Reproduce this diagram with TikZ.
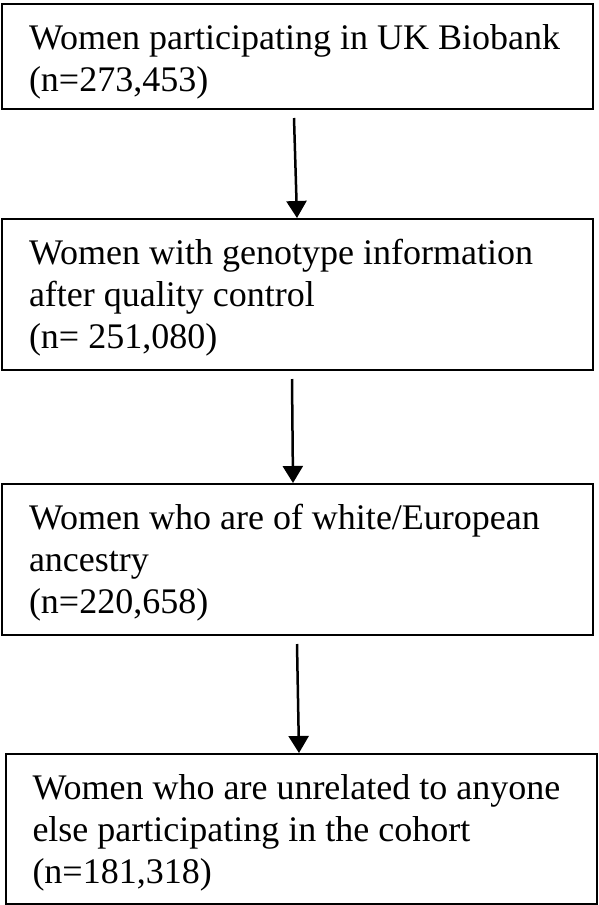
\documentclass[tikz,border=0pt]{standalone}
\usepackage{fontspec}
\setmainfont{Liberation Serif}
\usetikzlibrary{arrows.meta,positioning}

\begin{document}
\begin{tikzpicture}[x=1pt,y=1pt,
  box/.style={draw,line width=2pt,anchor=north,inner xsep=27pt,inner ysep=0pt,text width=537pt,
    text height=45pt,align=flush left,font=\fontsize{36}{42}\selectfont},
  flow/.style={-{Triangle[length=17pt,width=20pt]},line width=2.5pt}]
  \useasboundingbox (0,0) rectangle (598,-905);
  % boxes from top to bottom: name/x/top/depth/text
  \foreach \nm/\xc/\yt/\dep/\lab in {
    b1/297.5/-3/60/{Women participating in UK Biobank\\(n=273,453)},
    b2/297.5/-218/106/{Women with genotype information\\after quality control\\(n= 251,080)},
    b3/297.5/-483/106/{Women who are of white/European\\ancestry\\(n=220,658)},
    b4/301/-753/105/{Women who are unrelated to anyone\\else participating in the cohort\\(n=181,318)}} {
    \node[box,text depth=\dep pt] (\nm) at (\xc,\yt) {\lab};
  }
  % arrows between boxes
  \foreach \a/\b/\dx/\ex in {b1/b2/-3.5/-0.5, b2/b3/-5.5/-4.5, b3/b4/-0.5/-2} {
    \draw[flow] ([xshift=\dx pt,yshift=-8pt]\a.south) -- ([xshift=\ex pt]\b.north);
  }
\end{tikzpicture}
\end{document}
